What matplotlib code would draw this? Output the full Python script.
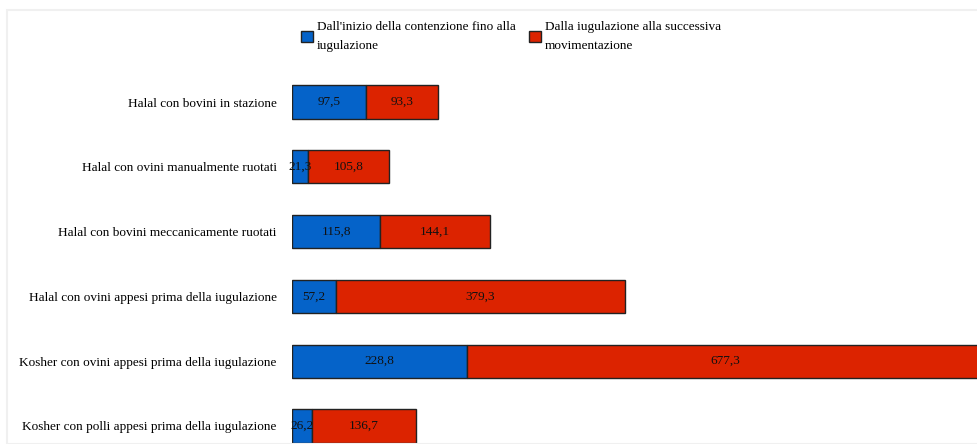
import matplotlib
matplotlib.use("Agg")
import matplotlib.pyplot as plt
from matplotlib.patches import Patch, Rectangle

# Chart data
categories = [
    "Halal con bovini in stazione",
    "Halal con ovini manualmente ruotati",
    "Halal con bovini meccanicamente ruotati",
    "Halal con ovini appesi prima della iugulazione",
    "Kosher con ovini appesi prima della iugulazione",
    "Kosher con polli appesi prima della iugulazione",
]
fase1 = [97.5, 21.3, 115.8, 57.2, 228.8, 26.2]
fase2 = [93.3, 105.8, 144.1, 379.3, 677.3, 136.7]
series_labels = [
    "Dall'inizio della contenzione fino alla\niugulazione",
    "Dalla iugulazione alla successiva\nmovimentazione",
]
colors = ["#0563c9", "#dc2300"]

plt.rcParams["font.family"] = ["Liberation Serif", "DejaVu Serif"]

fig = plt.figure(figsize=(9.78, 4.44), dpi=100)
ax = fig.add_axes([292 / 978, 0.0, 1 - 292 / 978, 374 / 444])

# faint outer frame as in the source image
fig.add_artist(Rectangle((7 / 978, 0), 1, 1 - 10 / 444, transform=fig.transFigure,
                         fill=False, edgecolor="#f0f0f0", linewidth=1.5))

y = list(range(len(categories)))
h = 0.51
ax.barh(y, fase1, height=h, color=colors[0], edgecolor="#222222", linewidth=1)
ax.barh(y, fase2, left=fase1, height=h, color=colors[1], edgecolor="#222222", linewidth=1)

def fmt(v):
    return f"{v:.1f}".replace(".", ",")

for i in y:
    ax.text(fase1[i] / 2, i, fmt(fase1[i]), ha="center", va="center", fontsize=9.5, color="#111111")
    ax.text(fase1[i] + fase2[i] / 2, i, fmt(fase2[i]), ha="center", va="center", fontsize=9.5, color="#111111")

ax.set_xlim(0, 899)
ax.set_ylim(5.278, -0.494)
ax.set_yticks(y)
ax.set_yticklabels(categories, fontsize=9.5)
ax.tick_params(axis="y", length=0, pad=11)
ax.set_xticks([])
for s in ax.spines.values():
    s.set_visible(False)

handles = [Patch(facecolor=c, edgecolor="#222222", linewidth=1) for c in colors]
leg = fig.legend(handles, series_labels, ncol=2, loc="upper left",
                 bbox_to_anchor=(292 / 978, 1 - 12 / 444), frameon=False,
                 fontsize=9.5, handlelength=0.9, handleheight=0.9, handletextpad=0.3,
                 columnspacing=1.0, borderpad=0.2)
for t in leg.get_texts():
    t.set_linespacing(1.75)

fig.savefig("out.png", dpi=100)
